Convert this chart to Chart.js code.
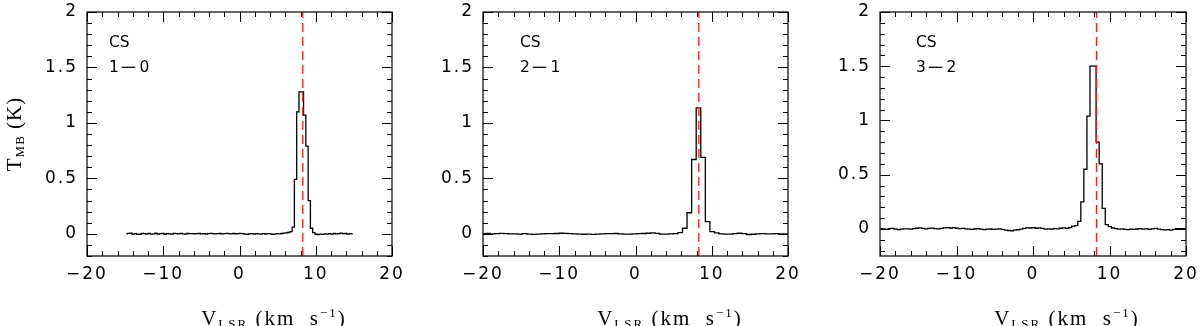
<!DOCTYPE html>
<html>
<head>
<meta charset="utf-8">
<script src="https://cdn.jsdelivr.net/npm/chart.js@4.4.1/dist/chart.umd.min.js"></script>
<style>
  html, body { margin: 0; padding: 0; background: #fff; overflow: hidden; }
  #wrap { position: relative; width: 1200px; height: 326px; overflow: hidden; }
  #wrap canvas { position: absolute; top: 0; }
</style>
</head>
<body>
<div id="wrap">
  <canvas id="c1" width="420" height="326" style="left:0"></canvas>
  <canvas id="c2" width="420" height="326" style="left:400px"></canvas>
  <canvas id="c3" width="420" height="326" style="left:800px"></canvas>
</div>
<script>
// ---------------------------------------------------------------------------
// Data: CS spectra, one value per channel (K), channel grid = start + i*width
// ---------------------------------------------------------------------------
const vsys = 8.3;                       // red dashed systemic velocity (km/s)
const xTicks = [-20, -10, 0, 10, 20];
const yTicks = [0, 0.5, 1, 1.5, 2];
const transitions = [['1', '0'], ['2', '1'], ['3', '2']];

// CS 1-0
const cs10Start = -14.85, cs10Width = 0.3;
const cs10Tmb = [
    0.000, 0.004, 0.006, -0.003, 0.002, -0.005, -0.004, 0.003, 0.001, -0.002,
    0.004, -0.003, 0.000, 0.005, -0.002, 0.001, 0.003, -0.004, 0.002, 0.000,
    -0.003, 0.004, 0.002, -0.001, 0.003, 0.000, -0.002, 0.003, 0.001, 0.002,
    -0.001, 0.002, 0.003, 0.000, 0.001, -0.002, 0.002, 0.004, 0.001, -0.001,
    0.002, 0.003, 0.000, 0.001, 0.004, 0.002, -0.001, 0.003, 0.000, 0.001,
    0.003, 0.001, -0.002, -0.004, 0.000, 0.002, -0.003, 0.001, 0.000, -0.002,
    0.001, -0.003, 0.002, 0.000, -0.004, -0.002, 0.001, 0.000, 0.003, 0.006, 0.008,
    0.012, 0.020, 0.060, 0.490, 1.100, 1.280, 1.280, 1.070, 0.790, 0.300, 0.050, 0.010,
    -0.004, -0.006, -0.002, -0.005, 0.000, -0.003, 0.001, -0.002, 0.003, -0.001,
    0.002, 0.006, 0.001, 0.003, -0.002, 0.002, 0.000
];

// CS 2-1
const cs21Start = -19.94, cs21Width = 0.6;
const cs21Tmb = [
    0.002, 0.003, 0.000, 0.001, 0.004, 0.002, -0.001, 0.000, -0.002, 0.001,
    -0.003, -0.005, -0.002, 0.000, 0.002, 0.001, 0.003, 0.005, 0.004, 0.002,
    0.000, -0.002, -0.004, -0.003, -0.005, -0.002, 0.000, 0.002, 0.001, 0.003,
    0.000, -0.002, -0.003, -0.001, 0.001, 0.003, 0.005, 0.008, 0.004, -0.002,
    -0.003, -0.001, 0.002,
    0.010, 0.050, 0.190, 0.670, 1.135, 0.690, 0.110, 0.020,
    0.008, 0.000, -0.003, -0.002, 0.001, 0.005, 0.002, -0.006, -0.004, 0.000,
    0.001, -0.001, 0.000, 0.002, 0.000, -0.001, 0.000
];

// CS 3-2
const cs32Start = -19.95, cs32Width = 0.4;
const cs32Tmb = [
    0.003, 0.000, -0.004, 0.002, 0.004, -0.002, -0.006, -0.003, 0.001, 0.000,
    -0.002, 0.003, 0.006, 0.010, 0.005, 0.001, 0.004, 0.007, 0.003, 0.000,
    0.005, 0.010, 0.012, 0.008, 0.011, 0.006, 0.002, 0.004, 0.001, -0.002,
    -0.004, -0.001, 0.002, -0.003, -0.006, -0.003, -0.001, -0.004, -0.002, 0.000,
    -0.005, -0.012, -0.015, -0.017, -0.012, -0.008, -0.003, 0.004, 0.010, 0.008,
    0.012, 0.006, 0.010, 0.004, -0.002, 0.001, -0.003, 0.002, 0.000, 0.006,
    0.010, 0.004, 0.012, 0.025,
    0.030, 0.070, 0.250, 0.550, 1.040, 1.500, 1.500, 0.800, 0.600, 0.190, 0.040,
    0.020, 0.008, 0.003, -0.002, 0.000, -0.004, -0.006, -0.003, -0.005, -0.001,
    0.002, -0.003, 0.000, -0.004, 0.001, 0.004, -0.002, -0.006, -0.010, -0.006,
    -0.012, -0.004, 0.002, 0.003, 0.002, 0.003
];

// ---------------------------------------------------------------------------
// Layout per panel (pixels inside each 420x326 canvas, canvases overlap)
// ---------------------------------------------------------------------------
const SANS = '"DejaVu Sans", sans-serif';
const SERIF = '"Liberation Serif", "DejaVu Serif", serif';
const PLOT_TOP = 12, PLOT_BOTTOM = 256, CANVAS_H = 326;

const panels = [
    { id: 'c1', start: cs10Start, width: cs10Width, tmb: cs10Tmb, yMin: -0.2,
      left: 87, right: 28, labelDx: 22, yTitle: true },
    { id: 'c2', start: cs21Start, width: cs21Width, tmb: cs21Tmb, yMin: -0.2,
      left: 83, right: 32, labelDx: 37, yTitle: false },
    { id: 'c3', start: cs32Start, width: cs32Width, tmb: cs32Tmb, yMin: -0.25,
      left: 80, right: 34, labelDx: 36, yTitle: false }
];

function channels(start, width, tmb) {
    return tmb.map((t, i) => ({ x: +(start + i * width).toFixed(3), y: t }));
}

function minusSign(v) {
    return String(v).replace('-', '\u2212');
}

// draw a run of text pieces [text, size, dy, xScale]; align 'center' or 'left'
function richText(ctx, parts, x, y, font, spacing, align) {
    ctx.letterSpacing = spacing + 'px';
    const widths = parts.map(p => {
        ctx.font = p[1] + 'px ' + font;
        return ctx.measureText(p[0]).width * (p[3] || 1);
    });
    let cx = align === 'left' ? x : x - widths.reduce((s, w) => s + w, 0) / 2;
    parts.forEach((p, i) => {
        ctx.font = p[1] + 'px ' + font;
        ctx.save();
        ctx.translate(cx, y + (p[2] || 0));
        ctx.scale(p[3] || 1, 1);
        ctx.fillText(p[0], 0, 0);
        ctx.restore();
        cx += widths[i];
    });
    ctx.letterSpacing = '0px';
}

// wider glyph spacing for the library-drawn tick labels
const tickSpacing = {
    id: 'tickSpacing',
    beforeDraw(chart) { chart.ctx.letterSpacing = '2px'; }
};

// frame, inward major/minor ticks on all four sides, labels
const frameTicks = {
    id: 'frameTicks',
    afterDraw(chart, args, opts) {
        const { ctx, chartArea: a, scales: { x, y } } = chart;
        ctx.save();
        ctx.letterSpacing = '0px';
        ctx.strokeStyle = '#000';
        ctx.lineWidth = 1.2;
        ctx.strokeRect(a.left, a.top, a.right - a.left, a.bottom - a.top);

        ctx.beginPath();
        const steps = (min, max, step) => {
            const out = [];
            for (let i = Math.ceil(min / step - 1e-9); i * step <= max + 1e-9; i++) out.push(i * step);
            return out;
        };
        const isMajor = (v, big) => Math.abs(v / big - Math.round(v / big)) < 1e-6;
        steps(x.min, x.max, 2).forEach(v => {
            const px = Math.round(x.getPixelForValue(v)) + 0.5;
            const len = isMajor(v, 10) ? 10 : 5;
            ctx.moveTo(px, a.bottom); ctx.lineTo(px, a.bottom - len);
            ctx.moveTo(px, a.top); ctx.lineTo(px, a.top + len);
        });
        steps(y.min, y.max, 0.1).forEach(v => {
            const py = Math.round(y.getPixelForValue(v)) + 0.5;
            const len = isMajor(v, 0.5) ? 10 : 5;
            ctx.moveTo(a.left, py); ctx.lineTo(a.left + len, py);
            ctx.moveTo(a.right, py); ctx.lineTo(a.right - len, py);
        });
        ctx.lineWidth = 1;
        ctx.stroke();

        // species / transition label
        ctx.fillStyle = '#000';
        ctx.textBaseline = 'alphabetic';
        ctx.textAlign = 'left';
        const lx = a.left + opts.labelDx;
        richText(ctx, [['CS', 15.5]], lx, 47, SANS, 0, 'left');
        richText(ctx, [
            [opts.transition[0], 15.5], ['\u2212', 15.5, 0, 1.4], [opts.transition[1], 15.5]
        ], lx, 72, SANS, 1, 'left');

        // x title: V_LSR (km s^-1)
        richText(ctx, [
            ['V', 21], ['LSR', 13, 3], [' (km  s', 21], ['\u22121', 13, -8], [')', 21]
        ], a.left + 187, 325, SERIF, 2, 'center');

        // y title: T_MB (K)
        if (opts.yTitle) {
            ctx.save();
            ctx.translate(20.5, (a.top + a.bottom) / 2);
            ctx.rotate(-Math.PI / 2);
            richText(ctx, [['T', 21], ['MB', 13, 3], [' (K)', 21]], 0, 0, SERIF, 1, 'center');
            ctx.restore();
        }
        ctx.restore();
    }
};

panels.forEach((p, i) => {
    new Chart(document.getElementById(p.id), {
        type: 'line',
        data: {
            datasets: [{
                // systemic velocity marker
                data: [{ x: vsys, y: p.yMin }, { x: vsys, y: 2 }],
                borderColor: '#ff1a1a',
                borderWidth: 1.3,
                borderDash: [9, 5],
                pointRadius: 0
            }, {
                data: channels(p.start, p.width, p.tmb),
                stepped: 'middle',
                borderColor: '#000',
                borderWidth: 1.3,
                pointRadius: 0,
                fill: false
            }]
        },
        options: {
            responsive: false,
            animation: false,
            layout: { padding: { top: PLOT_TOP, right: p.right, left: 0, bottom: 0 } },
            plugins: {
                legend: { display: false },
                tooltip: { enabled: false },
                frameTicks: { labelDx: p.labelDx, transition: transitions[i], yTitle: p.yTitle }
            },
            scales: {
                x: {
                    type: 'linear',
                    min: -20, max: 20,
                    grid: { display: false, drawTicks: false },
                    border: { display: false },
                    afterBuildTicks: s => { s.ticks = xTicks.map(v => ({ value: v })); },
                    afterFit: s => {
                        s.height = CANVAS_H - PLOT_BOTTOM;
                        s.paddingLeft = 0; s.paddingRight = 0;
                    },
                    ticks: {
                        color: '#000',
                        padding: 8,
                        maxRotation: 0,
                        font: { family: SANS, size: 17 },
                        callback: v => minusSign(v)
                    }
                },
                y: {
                    min: p.yMin, max: 2,
                    grid: { display: false, drawTicks: false },
                    border: { display: false },
                    afterBuildTicks: s => { s.ticks = yTicks.map(v => ({ value: v })); },
                    afterFit: s => {
                        s.width = p.left;
                        s.paddingTop = 0; s.paddingBottom = 0;
                    },
                    ticks: {
                        color: '#000',
                        padding: 9,
                        font: { family: SANS, size: 17 },
                        callback: v => minusSign(v)
                    }
                }
            }
        },
        plugins: [tickSpacing, frameTicks]
    });
});
</script>
</body>
</html>
